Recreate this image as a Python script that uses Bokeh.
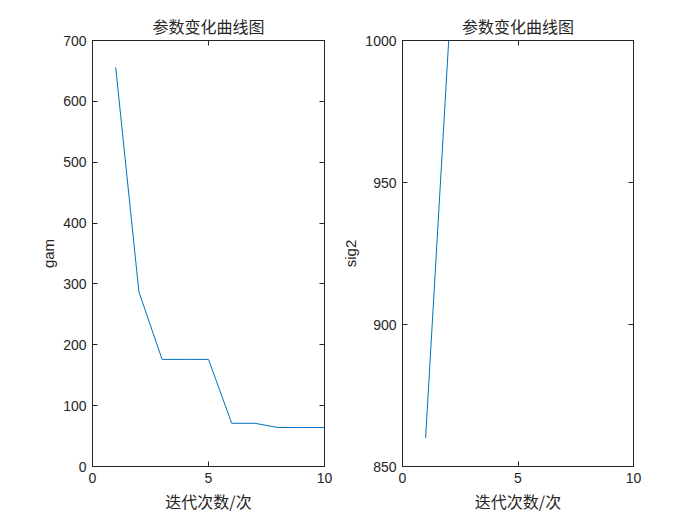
from bokeh.plotting import figure
from bokeh.layouts import row
from bokeh.models import Range1d, LinearAxis, FixedTicker
from bokeh.embed import file_html
from bokeh.resources import INLINE

iters = [1, 2, 3, 4, 5, 6, 7, 8, 9, 10]
gam = [656, 287, 176, 176, 176, 71, 71, 64, 64, 64]
sig2 = [860, 1000, 1000, 1000, 1000, 1000, 1000, 1000, 1000, 1000]

x_ticks = [0, 5, 10]
gam_ticks = [0, 100, 200, 300, 400, 500, 600, 700]
sig2_ticks = [850, 900, 950, 1000]

title_text = "参数变化曲线图"
x_label = "迭代次数/次"

AX = "#262626"
LINE = "#0072BD"
NUM_FONT = "Liberation Sans"
CJK_FONT = "Noto Sans CJK SC"


def make(y, yr, yticks, ylabel, width, bl, br, ylabel_standoff):
    p = figure(width=width, height=525, output_backend="svg", toolbar_location=None,
               x_range=Range1d(0, 10), y_range=Range1d(*yr),
               min_border_left=bl, min_border_right=br, min_border_top=40, min_border_bottom=59,
               title=title_text)
    p.title.align = "center"
    p.title.text_font = CJK_FONT
    p.title.text_font_style = "normal"
    p.title.text_font_size = "16px"
    p.title.text_color = AX
    p.title.standoff = 6
    p.grid.visible = False
    p.outline_line_color = AX
    p.outline_line_alpha = 1
    p.outline_line_width = 1
    p.background_fill_color = "white"
    p.border_fill_color = "white"

    p.line(iters, y, line_color=LINE, line_width=1)

    for ax in p.xaxis:
        ax.ticker = FixedTicker(ticks=x_ticks)
        ax.axis_label = x_label
        ax.axis_label_text_font = CJK_FONT
        ax.axis_label_text_font_size = "16px"
        ax.axis_label_standoff = 3
    for ax in p.yaxis:
        ax.ticker = FixedTicker(ticks=yticks)
        ax.axis_label = ylabel
        ax.axis_label_text_font = NUM_FONT
        ax.axis_label_text_font_size = "15px"
        ax.axis_label_standoff = ylabel_standoff
    for ax in list(p.xaxis) + list(p.yaxis):
        ax.major_tick_in = 5
        ax.major_tick_out = 0
        ax.minor_tick_line_color = None
        ax.axis_line_color = AX
        ax.major_tick_line_color = AX
        ax.major_label_text_font = NUM_FONT
        ax.major_label_text_font_size = "14px"
        ax.major_label_text_color = AX
        ax.major_label_standoff = 6
        ax.axis_label_text_font_style = "normal"
        ax.axis_label_text_color = AX

    top = LinearAxis(ticker=FixedTicker(ticks=x_ticks),
                     major_label_overrides={t: "" for t in x_ticks})
    right = LinearAxis(ticker=FixedTicker(ticks=yticks),
                       major_label_overrides={t: "" for t in yticks})
    for ax in (top, right):
        ax.major_tick_in = 5
        ax.major_tick_out = 0
        ax.minor_tick_line_color = None
        ax.axis_line_color = AX
        ax.major_tick_line_color = AX
        ax.major_label_standoff = 0
    p.add_layout(top, "above")
    p.add_layout(right, "right")
    return p


p1 = make(gam, (0, 700), gam_ticks, "gam", 339, 92, 15, 3)
p2 = make(sig2, (850, 1000), sig2_ticks, "sig2", 361, 62, 67, 3)

layout = row(p1, p2)
open("out.html", "w").write(file_html(layout, INLINE))
